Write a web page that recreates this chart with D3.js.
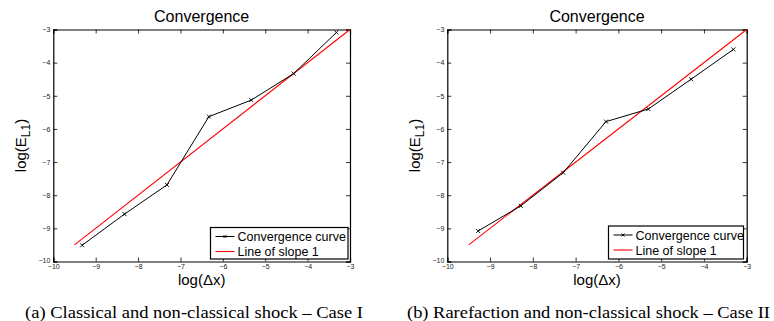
<!DOCTYPE html>
<html><head><meta charset="utf-8">
<script src="https://cdn.jsdelivr.net/npm/d3@7"></script>
<style>body{margin:0;background:#fff}svg{display:block}</style>
</head><body>
<svg id="c" width="774" height="321"></svg>
<script>
const xTicks = [-10,-9,-8,-7,-6,-5,-4,-3];
const yTicks = [-10,-9,-8,-7,-6,-5,-4,-3];
const logDxA = [-9.32,-8.32,-7.32,-6.33,-5.33,-4.33,-3.32];
const logErrA = [-9.51,-8.57,-7.69,-5.63,-5.13,-4.33,-3.09];
const logDxB = [-9.28,-8.28,-7.29,-6.29,-5.3,-4.3,-3.31];
const logErrB = [-9.08,-8.32,-7.32,-5.78,-5.4,-4.5,-3.6];
const slopeX = [-9.5,-3];
const slopeY = [-9.5,-3];
const titles = ["Convergence","Convergence"];
const legendLabels = ["Convergence curve","Line of slope 1"];
const captions = ["(a) Classical and non-classical shock – Case I","(b) Rarefaction and non-classical shock – Case II"];

const svg = d3.select("#c");
const panels = [
  {x0:53.3, x1:350, xs:logDxA, ys:logErrA, cap:captions[0], capX:194, capW:338, title:titles[0], leg:[210.5,227.5,348,259]},
  {x0:447.3, x1:746.7, xs:logDxB, ys:logErrB, cap:captions[1], capX:588.5, capW:363, title:titles[1], leg:[608.5,226,743.5,259]}
];
const yTop = 29.5, yBot = 261.5;
const sans = "Liberation Sans, Arial, sans-serif";

panels.forEach(p => {
  const g = svg.append("g");
  const x = d3.scaleLinear().domain([-10,-3]).range([p.x0,p.x1]);
  const y = d3.scaleLinear().domain([-10,-3]).range([yBot,yTop]);
  const fmt = d => d3.format("d")(d).replace("-", "\u2212");
  const ax = g.append("g").attr("transform",`translate(0,${yBot})`)
    .call(d3.axisBottom(x).tickValues(xTicks).tickSize(-4).tickPadding(3).tickFormat(fmt));
  const axT = g.append("g").attr("transform",`translate(0,${yTop})`)
    .call(d3.axisTop(x).tickValues(xTicks).tickSize(-4).tickFormat(""));
  const ay = g.append("g").attr("transform",`translate(${p.x0},0)`)
    .call(d3.axisLeft(y).tickValues(yTicks).tickSize(-4).tickPadding(3).tickFormat(fmt));
  const ayR = g.append("g").attr("transform",`translate(${p.x1},0)`)
    .call(d3.axisRight(y).tickValues(yTicks).tickSize(-4).tickFormat(""));
  [ax,axT,ay,ayR].forEach(a=>{
    a.select(".domain").attr("stroke","#000").attr("stroke-width",1.2);
    a.selectAll(".tick line").attr("stroke","#000").attr("stroke-width",0.8);
    a.selectAll("text").attr("font-family",sans).attr("font-size",7).attr("fill","#222");
  });
  ax.selectAll("text").attr("dy","0.6em");
  ay.selectAll("text").filter(d=>d===-10).attr("dy","0.1em");
  const line = d3.line().x(d=>x(d[0])).y(d=>y(d[1]));
  g.append("path").datum(slopeX.map((v,i)=>[v,slopeY[i]])).attr("d",line)
    .attr("fill","none").attr("stroke","#ff0000").attr("stroke-width",1.1);
  const pts = p.xs.map((v,i)=>[v,p.ys[i]]);
  g.append("path").datum(pts).attr("d",line).attr("fill","none").attr("stroke","#000").attr("stroke-width",1);
  const m = 2;
  g.selectAll(".mk").data(pts).enter().append("path")
    .attr("d",d=>{const cx=x(d[0]),cy=y(d[1]);return `M${cx-m},${cy-m}L${cx+m},${cy+m}M${cx-m},${cy+m}L${cx+m},${cy-m}`;})
    .attr("stroke","#000").attr("stroke-width",0.9);
  g.append("text").attr("x",(p.x0+p.x1)/2).attr("y",22).attr("text-anchor","middle")
    .attr("font-family",sans).attr("font-size",16).text(p.title);
  g.append("text").attr("x",(p.x0+p.x1)/2).attr("y",285).attr("text-anchor","middle")
    .attr("font-family",sans).attr("font-size",15).text("log(\u0394x)");
  const yl = g.append("text").attr("transform",`translate(${p.x0-27},${(yTop+yBot)/2}) rotate(-90)`)
    .attr("text-anchor","middle").attr("font-family",sans).attr("font-size",15);
  yl.append("tspan").text("log(E");
  yl.append("tspan").attr("font-size",12).attr("dy",4).text("L1");
  yl.append("tspan").attr("dy",-4).text(")");
  const [lx0,ly0,lx1,ly1] = p.leg;
  g.append("rect").attr("x",lx0).attr("y",ly0).attr("width",lx1-lx0).attr("height",ly1-ly0)
    .attr("fill","#fff").attr("stroke","#000").attr("stroke-width",1.2);
  const rowY = [ly0+9, ly0+24];
  g.append("line").attr("x1",lx0+5).attr("x2",lx0+24).attr("y1",rowY[0]).attr("y2",rowY[0]).attr("stroke","#000").attr("stroke-width",1);
  const mx = lx0+14.5;
  g.append("path").attr("d",`M${mx-1.5},${rowY[0]-1.5}L${mx+1.5},${rowY[0]+1.5}M${mx-1.5},${rowY[0]+1.5}L${mx+1.5},${rowY[0]-1.5}`).attr("stroke","#000").attr("stroke-width",0.9);
  g.append("line").attr("x1",lx0+5).attr("x2",lx0+24).attr("y1",rowY[1]).attr("y2",rowY[1]).attr("stroke","#ff0000").attr("stroke-width",1.1);
  legendLabels.forEach((t,i)=>{
    g.append("text").attr("x",lx0+27).attr("y",rowY[i]+4.5)
      .attr("font-family",sans).attr("font-size",12.5).text(t);
  });
  g.append("text").attr("x",p.capX).attr("y",318).attr("text-anchor","middle")
    .attr("font-family","Liberation Serif, Times New Roman, serif").attr("font-size",17.5)
    .attr("textLength",p.capW).attr("lengthAdjust","spacingAndGlyphs").text(p.cap);
});
</script>
</body></html>
